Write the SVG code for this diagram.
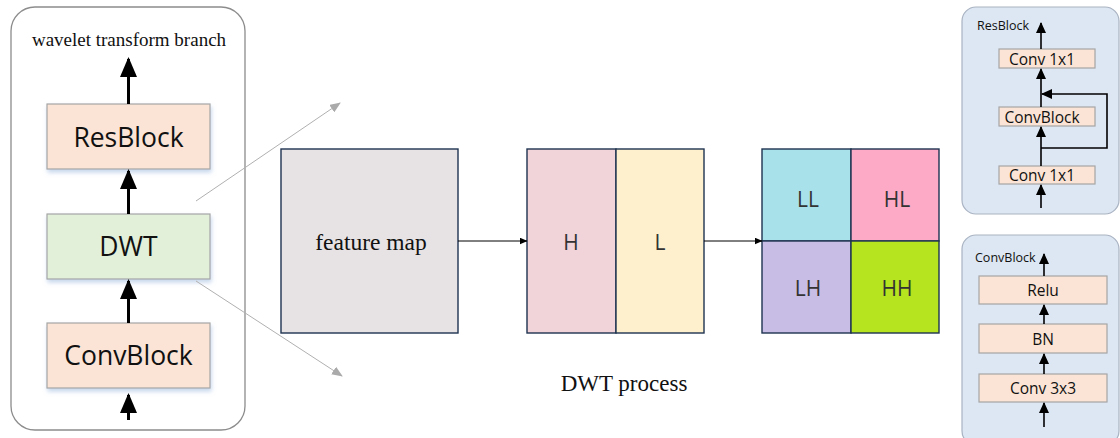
<svg xmlns="http://www.w3.org/2000/svg" width="1120" height="438" viewBox="0 0 1120 438">
<defs>
<style>
.panel{fill:#ffffff;stroke:#8c8c8c;stroke-width:1.3}
.bpanel{fill:#dde7f3;stroke:#a9b3c2;stroke-width:1.2}
.blk{stroke:#a6a6a6;stroke-width:1.2}
.peach{fill:#fbe4d5}
.green{fill:#e2efd9}
.big{font-family:"Open Sans","Noto Sans",sans-serif;font-size:26.5px;fill:#111;text-anchor:middle;dominant-baseline:central}
.sm{font-family:"Open Sans","Noto Sans",sans-serif;font-size:15.5px;fill:#111;text-anchor:middle;dominant-baseline:central}
.lbl{font-family:"Open Sans","Noto Sans",sans-serif;font-size:12.5px;fill:#111}
.ser{font-family:"Liberation Serif","Times New Roman",serif;fill:#111;text-anchor:middle}
.map{stroke:#1f3350;stroke-width:1.4}
.mt{font-family:"Open Sans","Noto Sans",sans-serif;font-size:21px;fill:#333;text-anchor:middle;dominant-baseline:central}
.thick{stroke:#000;stroke-width:3;fill:none;marker-end:url(#mbig)}
.thin{stroke:#000;stroke-width:1.6;fill:none;marker-end:url(#msm)}
.gray{stroke:#b0b0b0;stroke-width:1;fill:none;marker-end:url(#mgray)}
.flow{stroke:#000;stroke-width:1;fill:none;marker-end:url(#mflow)}
</style>
<filter id="sh" x="-10%" y="-10%" width="130%" height="140%">
<feDropShadow dx="1" dy="3" stdDeviation="2" flood-color="#b9cde8" flood-opacity="0.8"/>
</filter>
<marker id="mbig" viewBox="0 0 20 17" refX="18" refY="8.5" markerWidth="20" markerHeight="17" markerUnits="userSpaceOnUse" orient="auto"><path d="M0,0 L20,8.5 L0,17 z" fill="#000"/></marker>
<marker id="msm" viewBox="0 0 11 10" refX="10" refY="5" markerWidth="11" markerHeight="10" markerUnits="userSpaceOnUse" orient="auto"><path d="M0,0 L11,5 L0,10 z" fill="#000"/></marker>
<marker id="mgray" viewBox="0 0 11 9" refX="10" refY="4.5" markerWidth="11" markerHeight="9" markerUnits="userSpaceOnUse" orient="auto"><path d="M0,0 L11,4.5 L0,9 z" fill="#aaaaaa"/></marker>
<marker id="mflow" viewBox="0 0 8 7" refX="7.5" refY="3.5" markerWidth="8" markerHeight="7" markerUnits="userSpaceOnUse" orient="auto"><path d="M0,0 L8,3.5 L0,7 z" fill="#000"/></marker>
</defs>

<g id="branch-panel">
<rect class="panel" x="11" y="7" width="234" height="423" rx="24"/>
<text class="ser" x="129" y="46" font-size="19">wavelet transform branch</text>
</g>
<g id="resblock" filter="url(#sh)"><rect class="blk peach" x="47" y="104" width="163" height="65"/></g>
<text class="big" x="128.5" y="137">ResBlock</text>
<g id="dwt" filter="url(#sh)"><rect class="blk green" x="47" y="214" width="163" height="65"/></g>
<text class="big" x="128.5" y="246">DWT</text>
<g id="convblock" filter="url(#sh)"><rect class="blk peach" x="47" y="323" width="163" height="65"/></g>
<text class="big" x="128.5" y="355">ConvBlock</text>

<g id="feature-map"><rect class="map" x="281" y="149" width="177" height="184" fill="#e7e3e4"/>
<text class="ser" x="371" y="250" font-size="23.5">feature map</text></g>
<g id="hl-split">
<rect class="map" x="527" y="149" width="89" height="184" fill="#f1d3da"/>
<rect class="map" x="616" y="149" width="88" height="184" fill="#fef0cc"/>
<text class="mt" x="571" y="242">H</text>
<text class="mt" x="660" y="242">L</text>
</g>
<g id="subbands">
<rect class="map" x="762" y="149" width="89" height="92" fill="#a9e1ea"/>
<rect class="map" x="851" y="149" width="88" height="92" fill="#fcaac6"/>
<rect class="map" x="762" y="241" width="89" height="92" fill="#c8bde5"/>
<rect class="map" x="851" y="241" width="88" height="92" fill="#b6e41f"/>
<text class="mt" x="808" y="199">LL</text>
<text class="mt" x="897" y="199">HL</text>
<text class="mt" x="808" y="288">LH</text>
<text class="mt" x="897" y="288">HH</text>
</g>
<text id="dwt-process" class="ser" x="624" y="391" font-size="23">DWT process</text>

<g id="resblock-detail">
<rect class="bpanel" x="962" y="7" width="157" height="207" rx="14"/>
<text class="lbl" x="977" y="30">ResBlock</text>
<rect class="blk peach" x="999" y="49" width="96" height="19"/>
<text class="sm" x="1042" y="58.5">Conv 1x1</text>
<rect class="blk peach" x="999" y="107" width="96" height="19"/>
<text class="sm" x="1042" y="116.5">ConvBlock</text>
<rect class="blk peach" x="999" y="166" width="96" height="18"/>
<text class="sm" x="1042" y="175">Conv 1x1</text>
</g>
<g id="convblock-detail">
<rect class="bpanel" x="962" y="235" width="157" height="210" rx="14"/>
<text class="lbl" x="975" y="262">ConvBlock</text>
<rect class="blk peach" x="979" y="276" width="128" height="28"/>
<text class="sm" x="1043" y="290">Relu</text>
<rect class="blk peach" x="979" y="324" width="128" height="29"/>
<text class="sm" x="1043" y="338.5">BN</text>
<rect class="blk peach" x="979" y="374" width="128" height="28"/>
<text class="sm" x="1043" y="388">Conv 3x3</text>
</g>

<g id="connectors">
<line class="thick" x1="128.5" y1="104" x2="128.5" y2="59"/>
<line class="thick" x1="128.5" y1="214" x2="128.5" y2="171"/>
<line class="thick" x1="128.5" y1="323" x2="128.5" y2="281"/>
<line class="thick" x1="128.5" y1="420" x2="128.5" y2="395"/>
<line class="gray" x1="196" y1="201" x2="340" y2="103"/>
<line class="gray" x1="196" y1="281" x2="342" y2="376"/>
<line class="flow" x1="458" y1="241" x2="527" y2="241"/>
<line class="flow" x1="704" y1="241" x2="762" y2="241"/>
<line class="thin" x1="1041" y1="49" x2="1041" y2="23"/>
<line class="thin" x1="1041" y1="107" x2="1041" y2="69"/>
<line class="thin" x1="1041" y1="166" x2="1041" y2="127"/>
<line class="thin" x1="1041" y1="208" x2="1041" y2="185"/>
<polyline class="thin" points="1041,148 1107,148 1107,94 1042,94"/>
<line class="thin" x1="1044" y1="276" x2="1044" y2="254"/>
<line class="thin" x1="1044" y1="324" x2="1044" y2="305"/>
<line class="thin" x1="1044" y1="374" x2="1044" y2="354"/>
<line class="thin" x1="1044" y1="427" x2="1044" y2="403"/>
</g>
</svg>
